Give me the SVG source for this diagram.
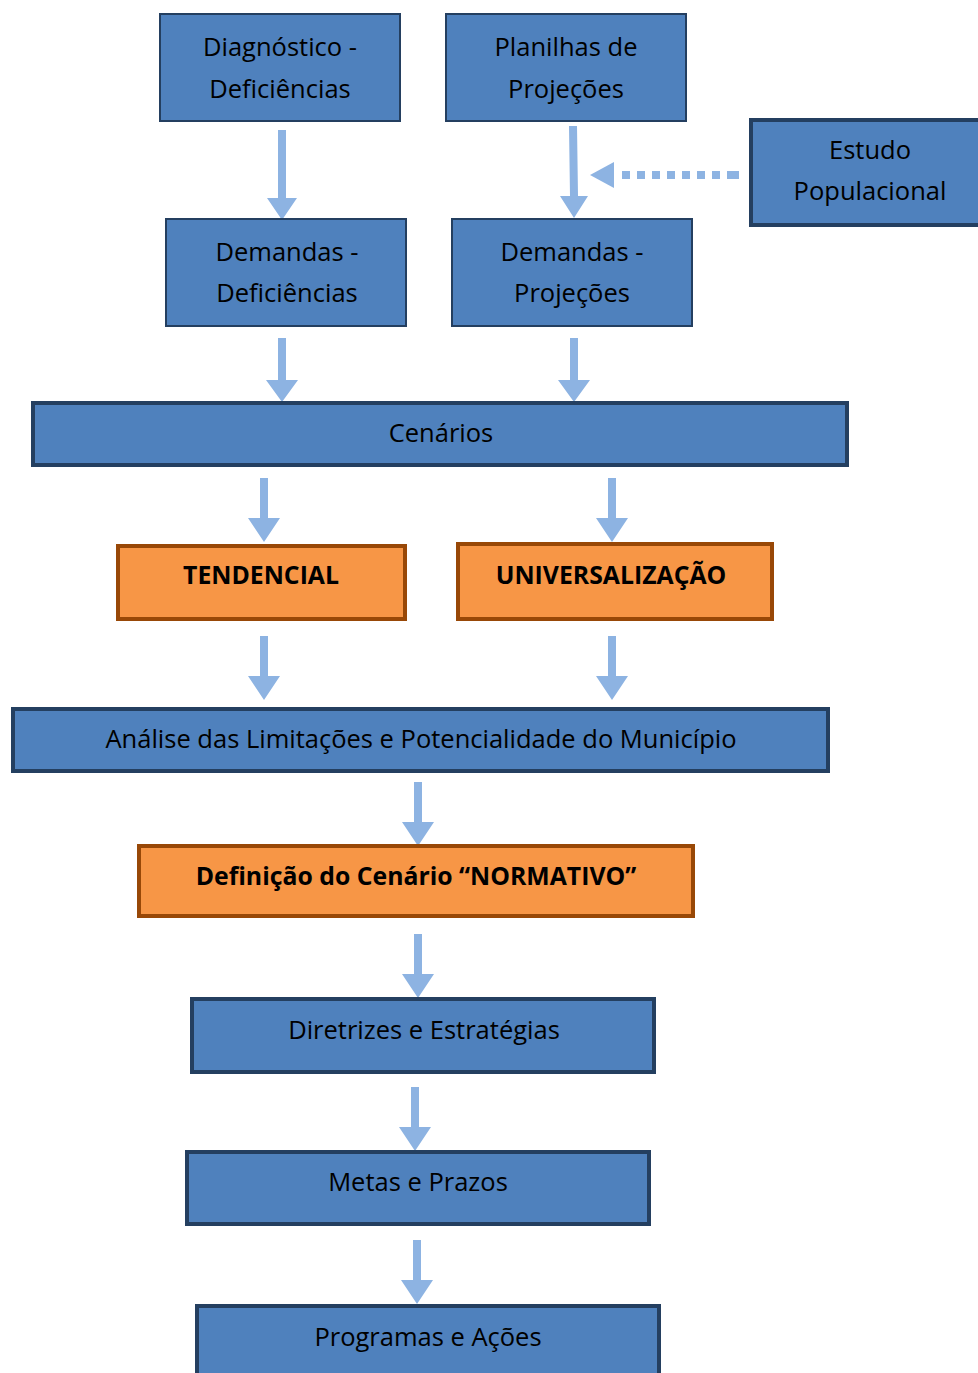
<svg xmlns="http://www.w3.org/2000/svg" width="978" height="1373" viewBox="0 0 978 1373">
<style>
.b{fill:#4F81BD;stroke:#243F60;stroke-width:2}
.bt{fill:#4F81BD;stroke:#243F60;stroke-width:4}
.o{fill:#F79646;stroke:#984807;stroke-width:4}
.t{font-family:"Open Sans","Liberation Sans",sans-serif;font-size:25.5px;fill:#000;text-anchor:middle}
.tb{font-family:"Open Sans","Liberation Sans",sans-serif;font-size:24.8px;font-weight:bold;fill:#000;text-anchor:middle}
.a{fill:#8DB3E2}
</style>
<rect width="978" height="1373" fill="#fff"/>
<g id="connectors">
<path class="a" d="M278 130h8v68h11l-15 22l-15-22h11z"/>
<path class="a" d="M569 126h8l1 70h10l-14 22l-14-22h10z"/>
<path class="a" d="M278 338h8v42h12l-16 22l-16-22h12z"/>
<path class="a" d="M570 338h8v42h12l-16 22l-16-22h12z"/>
<path class="a" d="M260 478h8v40h12l-16 24l-16-24h12z"/>
<path class="a" d="M608 478h8v40h12l-16 24l-16-24h12z"/>
<path class="a" d="M260 636h8v40h12l-16 24l-16-24h12z"/>
<path class="a" d="M608 636h8v40h12l-16 24l-16-24h12z"/>
<path class="a" d="M414 782h8v40h12l-16 24l-16-24h12z"/>
<path class="a" d="M414 934h8v40h12l-16 24l-16-24h12z"/>
<path class="a" d="M411 1087h8v40h12l-16 24l-16-24h12z"/>
<path class="a" d="M413 1240h8v40h12l-16 24l-16-24h12z"/>
<g class="a">
<path d="M590 175l24-13v26z"/>
<rect x="622" y="171" width="8" height="8"/>
<rect x="637" y="171" width="8" height="8"/>
<rect x="652" y="171" width="8" height="8"/>
<rect x="667" y="171" width="8" height="8"/>
<rect x="682" y="171" width="8" height="8"/>
<rect x="697" y="171" width="8" height="8"/>
<rect x="712" y="171" width="8" height="8"/>
<rect x="727" y="171" width="12" height="8"/>
</g>
</g>
<g id="diagnostico"><rect class="b" x="160" y="14" width="240" height="107"/><text class="t" x="280" y="56">Diagnóstico -</text><text class="t" x="280" y="98">Deficiências</text></g>
<g id="planilhas"><rect class="b" x="446" y="14" width="240" height="107"/><text class="t" x="566" y="56">Planilhas de</text><text class="t" x="566" y="98">Projeções</text></g>
<g id="estudo"><rect class="bt" x="751" y="120" width="231" height="105"/><text class="t" x="870" y="159">Estudo</text><text class="t" x="870" y="200">Populacional</text></g>
<g id="demandas-def"><rect class="b" x="166" y="219" width="240" height="107"/><text class="t" x="287" y="261">Demandas -</text><text class="t" x="287" y="302">Deficiências</text></g>
<g id="demandas-proj"><rect class="b" x="452" y="219" width="240" height="107"/><text class="t" x="572" y="261">Demandas -</text><text class="t" x="572" y="302">Projeções</text></g>
<g id="cenarios"><rect class="bt" x="33" y="403" width="814" height="62"/><text class="t" x="441" y="442">Cenários</text></g>
<g id="tendencial"><rect class="o" x="118" y="546" width="287" height="73"/><text class="tb" x="261" y="584">TENDENCIAL</text></g>
<g id="universalizacao"><rect class="o" x="458" y="544" width="314" height="75"/><text class="tb" x="611" y="584">UNIVERSALIZAÇÃO</text></g>
<g id="analise"><rect class="bt" x="13" y="709" width="815" height="62"/><text class="t" x="421" y="748">Análise das Limitações e Potencialidade do Município</text></g>
<g id="definicao"><rect class="o" x="139" y="846" width="554" height="70"/><text class="tb" x="416" y="885">Definição do Cenário “NORMATIVO”</text></g>
<g id="diretrizes"><rect class="bt" x="192" y="999" width="462" height="73"/><text class="t" x="424" y="1039">Diretrizes e Estratégias</text></g>
<g id="metas"><rect class="bt" x="187" y="1152" width="462" height="72"/><text class="t" x="418" y="1191">Metas e Prazos</text></g>
<g id="programas"><rect class="bt" x="197" y="1306" width="462" height="80"/><text class="t" x="428" y="1346">Programas e Ações</text></g>
</svg>
